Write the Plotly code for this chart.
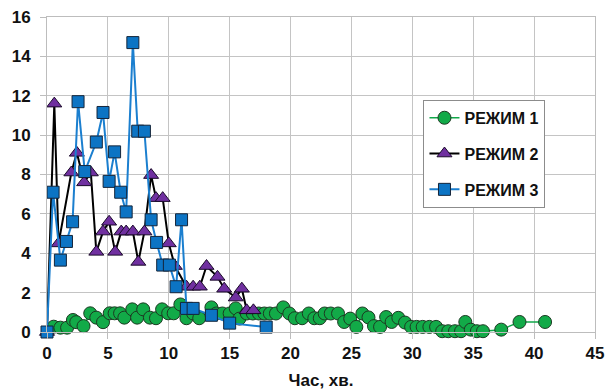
import plotly.graph_objects as go

# РЕЖИМ 1 (green circles)
t1 = [0.55, 1.1, 1.65, 2.13, 2.4, 3.0, 3.55, 4.05, 4.6, 5.15, 5.55, 6.0, 6.35, 7.0, 7.4, 7.9,
      8.45, 8.95, 9.45, 9.95, 10.4, 10.95, 11.45, 12.0, 12.5, 13.5, 13.9, 14.4, 15.0, 15.5, 15.8,
      16.4, 16.9, 17.4, 17.85, 18.3, 18.8, 19.4, 19.9, 20.35, 20.95, 21.5, 21.95, 22.4, 22.8,
      23.3, 23.9, 24.4, 24.9, 25.4, 25.9, 26.4, 26.85, 27.35, 27.85, 28.3, 28.85, 29.4, 29.9,
      30.35, 30.85, 31.4, 31.95, 32.45, 32.95, 33.5, 34.0, 34.35, 34.8, 35.3, 35.8, 37.3, 38.8, 40.9]
v1 = [0.27, 0.22, 0.22, 0.61, 0.5, 0.3, 0.95, 0.73, 0.5, 0.95, 0.95, 0.95, 0.73, 1.15, 0.73, 1.15,
      0.73, 0.7, 1.15, 0.95, 0.95, 1.4, 0.7, 0.94, 0.7, 1.25, 0.94, 0.94, 0.94, 1.2, 0.68,
      0.94, 0.94, 0.94, 0.94, 0.94, 0.94, 1.25, 0.94, 0.7, 0.7, 0.94, 0.7, 0.7, 0.94,
      0.94, 0.94, 0.51, 0.68, 0.26, 0.94, 0.74, 0.3, 0.26, 0.76, 0.51, 0.72, 0.48, 0.26,
      0.26, 0.26, 0.26, 0.26, 0.04, 0.04, 0.04, 0.04, 0.51, 0.12, 0.04, 0.04, 0.12, 0.51, 0.51]

# РЕЖИМ 2 (purple triangles)
t2 = [0, 0.6, 0.95, 2.0, 2.45, 3.05, 3.6, 4.05, 4.6, 5.1, 5.6, 6.1, 6.5, 7.05, 7.5, 8.0,
      8.55, 8.95, 9.5, 10.0, 10.5, 11.45, 12.0, 12.55, 13.1, 14.0, 14.55, 15.5, 16.0, 16.4, 16.95]
v2 = [0, 11.6, 4.5, 8.1, 9.1, 7.6, 8.1, 4.07, 5.1, 5.6, 4.07, 5.1, 5.1, 5.1, 3.56, 5.1,
      7.97, 6.8, 6.8, 4.5, 3.35, 2.3, 2.3, 2.3, 3.35, 2.8, 2.2, 1.75, 2.2, 1.1, 1.1]

# РЕЖИМ 3 (blue squares)
t3 = [0, 0.5, 1.1, 1.6, 2.1, 2.55, 3.1, 4.05, 4.6, 5.1, 5.55, 6.05, 6.5, 7.05, 7.45, 8.0,
      8.55, 9.0, 9.5, 10.05, 10.6, 11.05, 11.45, 12.0, 13.5, 15.0, 18.0]
v3 = [0, 7.1, 3.65, 4.6, 5.6, 11.7, 8.15, 9.65, 11.15, 7.65, 9.15, 7.1, 6.1, 14.7, 10.2, 10.2,
      5.7, 4.55, 3.4, 3.4, 2.3, 5.7, 1.2, 1.2, 0.85, 0.45, 0.25]

names = ["РЕЖИМ 1", "РЕЖИМ 2", "РЕЖИМ 3"]
x_ticks = [0, 5, 10, 15, 20, 25, 30, 35, 40, 45]
y_ticks = [0, 2, 4, 6, 8, 10, 12, 14, 16]
x_title = "Час, хв."

FONT = "Liberation Sans, Arial, sans-serif"

fig = go.Figure()
fig.add_trace(go.Scatter(
    x=t1, y=v1, name=names[0], mode="lines+markers", legendgroup="g1",
    line=dict(color="#12A84A", width=1.5),
    marker=dict(symbol="circle", size=13, color="#12AA48", line=dict(color="#1C3A22", width=1)),
    cliponaxis=False))
fig.add_trace(go.Scatter(
    x=t2, y=v2, name=names[1], mode="lines+markers", legendgroup="g2",
    line=dict(color="#000000", width=2),
    marker=dict(symbol="triangle-up", size=13, color="#7030A0", line=dict(color="#1A0A2A", width=1)),
    cliponaxis=False))
fig.add_trace(go.Scatter(
    x=t3, y=v3, name=names[2], mode="lines+markers", legendgroup="g3",
    line=dict(color="#1B7FCF", width=2),
    marker=dict(symbol="square", size=12, color="#0C74C4", line=dict(color="#14253A", width=1)),
    cliponaxis=False))

axis_common = dict(
    showgrid=True, gridcolor="#C4C4C4", gridwidth=1,
    showline=True, linecolor="#BDBDBD", linewidth=1, mirror=True,
    ticks="outside", ticklen=6, tickcolor="#BDBDBD",
    zeroline=False, automargin=False,
    tickfont=dict(family=FONT, size=17, color="#111111", weight="bold"),
)

fig.update_layout(
    width=605, height=392,
    margin=dict(l=47, r=10, t=17, b=60),
    paper_bgcolor="white", plot_bgcolor="white",
    showlegend=True,
    legend=dict(
        x=0.687, y=0.737, xanchor="left", yanchor="top",
        bgcolor="white", bordercolor="#8C8C8C", borderwidth=1,
        font=dict(family=FONT, size=16, color="#111111", weight="bold"),
        tracegroupgap=12, itemwidth=30,
    ),
    xaxis=dict(range=[0, 45], tickvals=x_ticks, ticktext=[str(v) for v in x_ticks],
               title=dict(text=x_title, font=dict(family=FONT, size=17, color="#111111", weight="bold"),
                          standoff=11),
               **axis_common),
    yaxis=dict(range=[0, 16], tickvals=y_ticks, ticktext=[str(v) for v in y_ticks],
               ticklabelstandoff=6, **axis_common),
)

fig.write_html("out.html", config={"displayModeBar": False},
               post_script="document.body.style.margin='0px';")
